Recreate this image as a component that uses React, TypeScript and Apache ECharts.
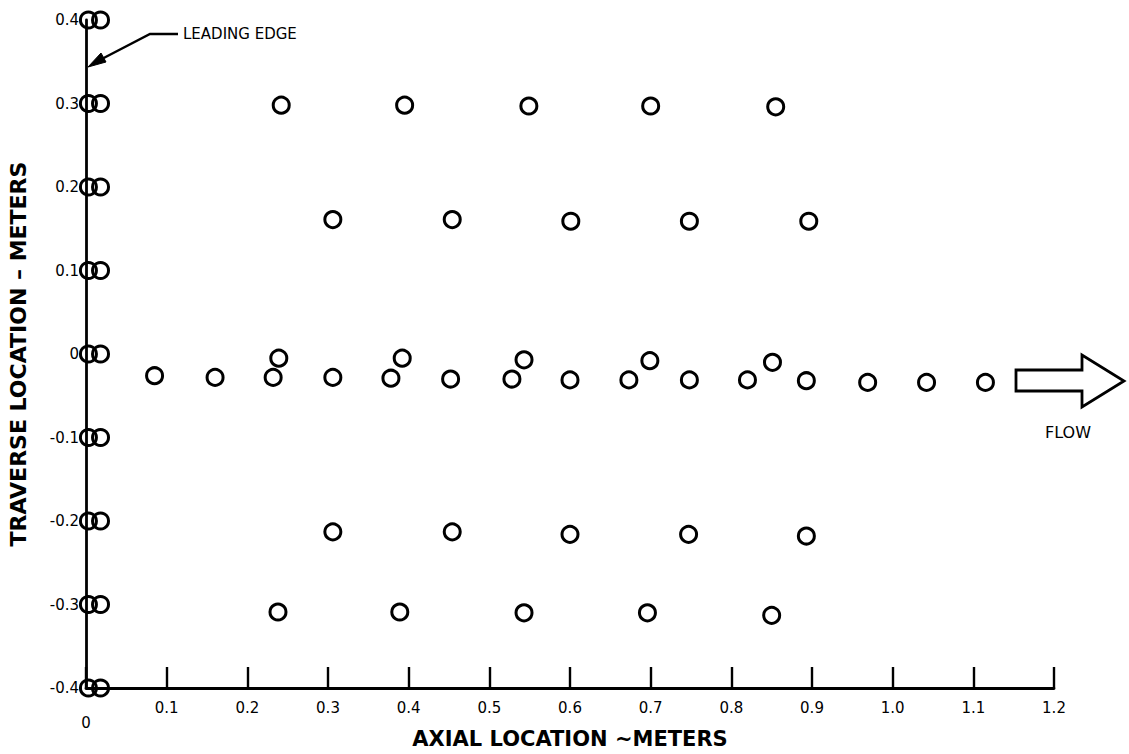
import React, { useEffect, useRef } from "react";
import * as echarts from "echarts";

// Axis ranges and tick labels
const xTickValues = [0, 0.1, 0.2, 0.3, 0.4, 0.5, 0.6, 0.7, 0.8, 0.9, 1.0, 1.1, 1.2];
const yTickValues = [-0.4, -0.3, -0.2, -0.1, 0, 0.1, 0.2, 0.3, 0.4];

// Probe stations at the leading edge (two closely spaced axial stations per traverse)
const leadingEdgeX = [0.003, 0.018];
const leadingEdgeY = [0.4, 0.3, 0.2, 0.1, 0, -0.1, -0.2, -0.3, -0.4];

// Centreline row
const centerX = [0.085, 0.16, 0.232, 0.306, 0.378, 0.452, 0.528, 0.6, 0.673, 0.748, 0.82, 0.893, 0.969, 1.042, 1.115];
const centerY = [-0.026, -0.028, -0.028, -0.028, -0.029, -0.03, -0.03, -0.031, -0.031, -0.031, -0.031, -0.032, -0.034, -0.034, -0.034];

// Stations just above the centreline
const nearCenterX = [0.239, 0.392, 0.543, 0.699, 0.851];
const nearCenterY = [-0.005, -0.005, -0.007, -0.008, -0.01];

// Off-axis traverse rows
const upperOuterX = [0.242, 0.395, 0.549, 0.7, 0.855];
const upperOuterY = [0.298, 0.298, 0.297, 0.297, 0.296];
const upperInnerX = [0.306, 0.454, 0.601, 0.748, 0.896];
const upperInnerY = [0.161, 0.161, 0.159, 0.159, 0.159];
const lowerInnerX = [0.306, 0.454, 0.6, 0.747, 0.893];
const lowerInnerY = [-0.213, -0.213, -0.216, -0.216, -0.218];
const lowerOuterX = [0.238, 0.389, 0.543, 0.696, 0.85];
const lowerOuterY = [-0.309, -0.309, -0.31, -0.31, -0.313];

const pair = (xs: number[], ys: number[]) => xs.map((x, i) => [x, ys[i]]);

const leadingEdgePoints: number[][] = [];
leadingEdgeY.forEach((y) => leadingEdgeX.forEach((x) => leadingEdgePoints.push([x, y])));

const LABEL_FONT = "'DejaVu Sans', 'Liberation Sans', Arial, sans-serif";

const circleSeries = (name: string, data: number[][]) => ({
  name,
  type: "scatter",
  data,
  symbol: "circle",
  symbolSize: 16,
  itemStyle: { color: "rgba(0,0,0,0)", borderColor: "#000", borderWidth: 3, opacity: 1 },
  silent: true,
});

export default function App() {
  const ref = useRef<HTMLDivElement>(null);

  useEffect(() => {
    if (!ref.current) return;
    const chart = echarts.init(ref.current, undefined, { renderer: "svg" });
    const fmt = (v: number) => (Math.abs(v) < 1e-9 ? "0" : v.toFixed(1));

    chart.setOption({
      animation: false,
      backgroundColor: "#fff",
      grid: { left: 86, right: 75, top: 20, bottom: 66, containLabel: false, outerBoundsMode: "none" },
      xAxis: {
        type: "value",
        min: xTickValues[0],
        max: xTickValues[xTickValues.length - 1],
        interval: 0.1,
        name: "AXIAL LOCATION ~METERS",
        nameLocation: "middle",
        nameGap: 40,
        nameMoveOverlap: false,
        nameTextStyle: {
          color: "#000",
          fontSize: 21,
          lineHeight: 22,
          fontWeight: "bold",
          fontFamily: LABEL_FONT,
        },
        axisLine: { show: true, onZero: false, lineStyle: { color: "#000", width: 2.8 } },
        axisTick: { show: true, inside: true, length: 21, lineStyle: { color: "#000", width: 2.4 } },
        splitLine: { show: false },
        axisLabel: {
          color: "#000",
          fontSize: 15,
          fontFamily: LABEL_FONT,
          margin: 12,
          formatter: (v: number) => (Math.abs(v) < 1e-9 ? "{z|0}" : v.toFixed(1)),
          rich: { z: { fontSize: 15, fontFamily: LABEL_FONT, color: "#000", padding: [15, 0, 0, 0] } },
        },
      },
      yAxis: {
        type: "value",
        min: yTickValues[0],
        max: yTickValues[yTickValues.length - 1],
        interval: 0.1,
        name: "TRAVERSE LOCATION – METERS",
        nameLocation: "middle",
        nameGap: 57,
        nameMoveOverlap: false,
        nameRotate: 90,
        nameTextStyle: { color: "#000", fontSize: 22, fontWeight: "bold", fontFamily: LABEL_FONT },
        axisLine: { show: true, onZero: false, lineStyle: { color: "#000", width: 2.8 } },
        axisTick: { show: false },
        splitLine: { show: false },
        axisLabel: { color: "#000", fontSize: 15, fontFamily: LABEL_FONT, margin: 7, formatter: fmt },
      },
      series: [
        circleSeries("leading edge", leadingEdgePoints),
        circleSeries("centreline", pair(centerX, centerY)),
        circleSeries("near centreline", pair(nearCenterX, nearCenterY)),
        circleSeries("upper outer", pair(upperOuterX, upperOuterY)),
        circleSeries("upper inner", pair(upperInnerX, upperInnerY)),
        circleSeries("lower inner", pair(lowerInnerX, lowerInnerY)),
        circleSeries("lower outer", pair(lowerOuterX, lowerOuterY)),
      ],
      graphic: [
        // Leading-edge callout
        {
          type: "polyline",
          shape: { points: [[178, 34], [150, 34], [96, 62]] },
          style: { stroke: "#000", lineWidth: 2.4, fill: "none" },
        },
        {
          type: "polygon",
          shape: { points: [[88, 67], [101, 53], [106, 62]] },
          style: { fill: "#000", stroke: "#000", lineWidth: 1 },
        },
        {
          type: "text",
          x: 183,
          y: 34,
          style: {
            text: "LEADING EDGE",
            fill: "#000",
            font: `15px ${LABEL_FONT}`,
            verticalAlign: "middle",
            align: "left",
          },
        },
        // Flow direction arrow
        {
          type: "polygon",
          shape: {
            points: [
              [1016, 370],
              [1082, 370],
              [1082, 355],
              [1124, 381],
              [1082, 407],
              [1082, 391],
              [1016, 391],
            ],
          },
          style: { fill: "#fff", stroke: "#000", lineWidth: 2.8, lineJoin: "miter" },
        },
        {
          type: "text",
          x: 1068,
          y: 432,
          style: {
            text: "FLOW",
            fill: "#000",
            font: `16px ${LABEL_FONT}`,
            verticalAlign: "middle",
            align: "center",
          },
        },
      ],
    });

    return () => chart.dispose();
  }, []);

  return (
    <div
      ref={ref}
      style={{ position: "fixed", left: 0, top: 0, width: 1129, height: 754, background: "#fff" }}
    />
  );
}
